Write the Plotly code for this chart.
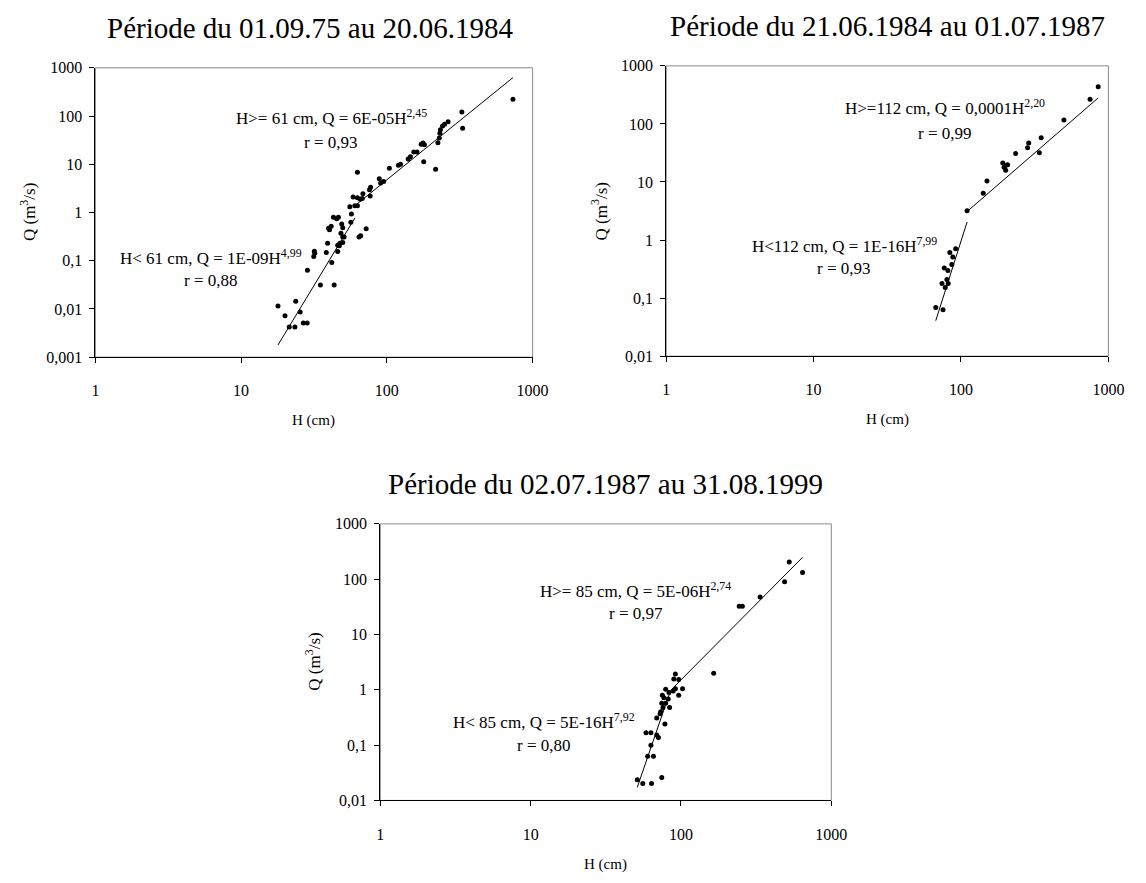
import numpy as np
import plotly.graph_objects as go

# ---------------- data ----------------
# Period 1: 01.09.75 - 20.06.1984
H1 = [17.9, 20.0, 21.4, 23.4, 23.7, 25.4, 26.7, 28.4, 28.5, 31.5, 31.8, 32.0, 35.0,
      38.4, 39.2, 39.8, 40.4, 41.5, 41.9, 43.0, 43.5, 45.3, 46.0, 46.0, 46.5, 47.2,
      47.7, 48.4, 49.0, 49.8, 49.8, 49.8, 50.9, 55.7, 56.6, 57.1, 58.7, 60.3, 62.8,
      62.8, 62.8, 64.4, 65.7, 66.1, 67.8, 68.5, 72.1, 76.0, 76.8, 77.3, 88.7, 90.6,
      95.0, 104, 120, 124, 140, 145, 153, 161, 172, 177, 179, 181, 216, 224, 229,
      231, 233, 241, 249, 263, 327, 331, 733]
Q1 = [0.0115, 0.0072, 0.0042, 0.0042, 0.0144, 0.0086, 0.0051, 0.0051, 0.0635, 0.123,
      0.158, 0.143, 0.0315, 0.148, 0.23, 0.47, 0.44, 0.52, 0.092, 0.80, 0.0315, 0.74,
      0.155, 0.21, 0.80, 0.205, 0.23, 0.37, 0.58, 0.31, 0.48, 0.24, 0.31, 1.32, 0.63,
      0.93, 2.1, 1.38, 6.8, 2.03, 1.38, 0.31, 1.88, 0.33, 1.94, 2.45, 0.46, 2.96, 2.2,
      3.35, 5.0, 4.1, 4.4, 8.3, 9.6, 10.0, 12.8, 14.3, 18.0, 18.0, 26.0, 27.5, 11.3,
      25.5, 7.9, 28.0, 35.0, 44.0, 52.0, 62.0, 68.0, 76.0, 122.0, 56.0, 222.0]

# Period 2: 21.06.1984 - 01.07.1987
H2 = [67.4, 74.3, 75.5, 77.0, 78.2, 80.2, 81.5, 81.9, 84.0, 86.6, 88.0, 92.0, 110.0,
      141.6, 150.0, 192.0, 196.0, 199.6, 201.0, 207.0, 235.0, 283.0, 288.0, 340.0,
      350.0, 499.0, 751.0, 853.0]
Q2 = [0.069, 0.178, 0.063, 0.33, 0.153, 0.21, 0.30, 0.178, 0.61, 0.38, 0.51, 0.71, 3.18,
      6.4, 10.4, 21.2, 17.9, 19.0, 15.9, 19.9, 30.8, 39.0, 47.0, 32.0, 57.5, 117.0,
      266.0, 436.0]

# Period 3: 02.07.1987 - 31.08.1999
H3 = [51.2, 55.7, 58.5, 60.0, 63.1, 63.1, 63.7, 65.6, 69.0, 69.0, 70.8, 72.6, 73.3,
      74.5, 74.5, 75.2, 75.9, 77.0, 78.2, 79.1, 79.1, 82.3, 83.2, 84.0, 88.7, 89.6,
      91.8, 91.8, 96.6, 96.6, 102.5, 165.0, 244.0, 256.0, 336.0, 489.0, 525.0, 644.0]
Q3 = [0.0236, 0.0203, 0.167, 0.063, 0.167, 0.10, 0.0203, 0.063, 0.31, 0.152, 0.138,
      0.37, 0.40, 0.57, 0.0259, 0.80, 0.48, 0.72, 0.24, 1.02, 0.57, 0.68, 0.89, 0.48,
      0.95, 1.57, 1.93, 1.05, 1.53, 0.80, 1.05, 2.0, 32.5, 32.5, 47.6, 90.0, 204.0,
      132.0]

# Rating-curve fits Q = a * H^b, split at threshold H0
H0 = [61, 112, 85]
A_LOW = [1e-9, 1e-16, 5e-16]
B_LOW = [4.99, 7.99, 7.92]
A_HIGH = [6e-5, 0.0001, 5e-6]
B_HIGH = [2.45, 2.20, 2.74]
R_LOW = ["0,88", "0,93", "0,80"]
R_HIGH = ["0,93", "0,99", "0,97"]
LBL_LOW = ["H< 61 cm, Q = 1E-09H<sup>4,99</sup>",
           "H<112 cm, Q = 1E-16H<sup>7,99</sup>",
           "H< 85 cm, Q = 5E-16H<sup>7,92</sup>"]
LBL_HIGH = ["H>= 61 cm, Q = 6E-05H<sup>2,45</sup>",
            "H>=112 cm, Q = 0,0001H<sup>2,20</sup>",
            "H>= 85 cm, Q = 5E-06H<sup>2,74</sup>"]

TITLES = ["Période du 01.09.75 au 20.06.1984",
          "Période du 21.06.1984 au 01.07.1987",
          "Période du 02.07.1987 au 31.08.1999"]

X_TICKS = [1, 10, 100, 1000]
X_TICKTEXT = ["1", "10", "100", "1000"]
Y_TICKS = [0.001, 0.01, 0.1, 1, 10, 100, 1000]
Y_TICKTEXT = ["0,001", "0,01", "0,1", "1", "10", "100", "1000"]
Y_RANGES = [[-3, 3], [-2, 3], [-2, 3]]

# ---------------- layout geometry (pixels) ----------------
W, HT = 1146, 883
SERIF = "Liberation Serif"
# plot boxes: left, right, top, bottom
BOXES = [(93, 538, 61, 356), (674, 1124, 59, 355), (383, 842, 526, 808)]
# formula label centres: (x, y line1, y line2) for high and low branch
POS_HIGH = [(333, 111, 137), (958, 101, 128), (643, 593, 617)]
POS_LOW = [(211, 254, 278), (855, 242, 266), (550, 727, 752)]


def fx(p):
    return p / W


def fy(p):
    return 1 - p / HT


fig = go.Figure()
data = [(H1, Q1), (H2, Q2), (H3, Q3)]
annotations = []
shapes = []
layout = {}

for i, (H, Q) in enumerate(data):
    n = "" if i == 0 else str(i + 1)
    xa, ya = "x" + n, "y" + n
    left, right, top, bottom = BOXES[i]

    Harr = np.array(H)
    low = Harr[Harr < H0[i]]
    high = Harr[Harr >= H0[i]]
    h_low = np.geomspace(low.min(), low.max(), 20)
    h_high = np.geomspace(H0[i], high.max(), 20)

    fig.add_trace(go.Scatter(x=h_low, y=A_LOW[i] * h_low ** B_LOW[i], mode="lines",
                             line=dict(color="black", width=1), xaxis=xa, yaxis=ya,
                             showlegend=False, hoverinfo="skip"))
    fig.add_trace(go.Scatter(x=h_high, y=A_HIGH[i] * h_high ** B_HIGH[i], mode="lines",
                             line=dict(color="black", width=1), xaxis=xa, yaxis=ya,
                             showlegend=False, hoverinfo="skip"))
    fig.add_trace(go.Scatter(x=H, y=Q, mode="markers",
                             marker=dict(color="black", size=5), xaxis=xa, yaxis=ya,
                             showlegend=False))

    layout["xaxis" + n] = dict(
        type="log", range=[0, 3], domain=[fx(left), fx(right)], anchor=ya,
        tickvals=X_TICKS, ticktext=X_TICKTEXT, ticks="outside", ticklen=5,
        tickcolor="black", showline=True, linecolor="black", linewidth=1,
        showgrid=False, zeroline=False, ticklabelstandoff=14,
        tickfont=dict(family=SERIF, size=16, color="black"))
    layout["yaxis" + n] = dict(
        type="log", range=Y_RANGES[i], domain=[fy(bottom), fy(top)], anchor=xa,
        tickvals=Y_TICKS, ticktext=Y_TICKTEXT, ticks="outside", ticklen=5,
        tickcolor="black", showline=True, linecolor="black", linewidth=1,
        showgrid=False, zeroline=False, ticklabelstandoff=4,
        tickfont=dict(family=SERIF, size=16, color="black"))

    # grey frame around the plot area
    shapes.append(dict(type="rect", xref=xa + " domain", yref=ya + " domain",
                       x0=0, x1=1, y0=0, y1=1, layer="below",
                       line=dict(color="#8a8a8a", width=1)))

    cx = (left + right) / 2
    cy = (top + bottom) / 2
    # panel title
    annotations.append(dict(text=TITLES[i], x=fx(cx - 4 if i == 0 else cx),
                            y=fy(top - 41), xref="paper", yref="paper",
                            showarrow=False, xanchor="center", yanchor="middle",
                            font=dict(family=SERIF, size=29, color="black")))
    # axis titles
    annotations.append(dict(text="H (cm)", x=fx(cx), y=fy(bottom + 65),
                            xref="paper", yref="paper", showarrow=False,
                            xanchor="center", yanchor="middle",
                            font=dict(family=SERIF, size=15, color="black")))
    annotations.append(dict(text="Q (m<sup>3</sup>/s)", x=fx(left - 68), y=fy(cy),
                            xref="paper", yref="paper", showarrow=False, textangle=-90,
                            xanchor="center", yanchor="middle",
                            font=dict(family=SERIF, size=17, color="black")))
    # regression labels
    for lbl, r, (px, py1, py2) in ((LBL_HIGH[i], R_HIGH[i], POS_HIGH[i]),
                                   (LBL_LOW[i], R_LOW[i], POS_LOW[i])):
        annotations.append(dict(text=lbl, x=fx(px), y=fy(py1), xref="paper",
                                yref="paper", showarrow=False, xanchor="center",
                                yanchor="middle",
                                font=dict(family=SERIF, size=17, color="black")))
        annotations.append(dict(text="r = " + r, x=fx(px), y=fy(py2), xref="paper",
                                yref="paper", showarrow=False, xanchor="center",
                                yanchor="middle",
                                font=dict(family=SERIF, size=17, color="black")))

fig.update_layout(
    width=W, height=HT, margin=dict(l=0, r=0, t=0, b=0),
    paper_bgcolor="white", plot_bgcolor="white",
    annotations=annotations, shapes=shapes, showlegend=False,
    **layout)

fig.write_html("out.html")
